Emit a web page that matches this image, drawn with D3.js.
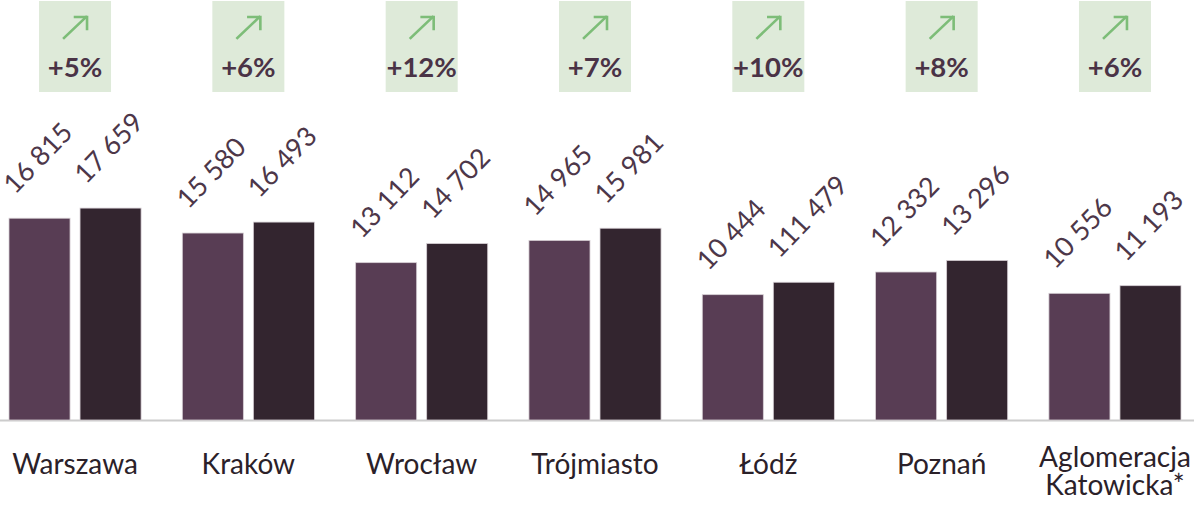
<!DOCTYPE html>
<html><head><meta charset="utf-8">
<script src="https://cdn.jsdelivr.net/npm/d3@7"></script>
<style>
html,body{margin:0;padding:0;background:#fff;}
svg{display:block;font-family:Lato,"Noto Sans",sans-serif;}
</style></head>
<body>
<svg id="chart" width="1194" height="511"></svg>
<script>
const categories = ["Warszawa","Kraków","Wrocław","Trójmiasto","Łódź","Poznań","Aglomeracja\nKatowicka*"];
const seriesA = [16815, 15580, 13112, 14965, 10444, 12332, 10556];
const seriesB = [17659, 16493, 14702, 15981, 11479, 13296, 11193];
const labelsA = ["16 815","15 580","13 112","14 965","10 444","12 332","10 556"];
const labelsB = ["17 659","16 493","14 702","15 981","111 479","13 296","11 193"];
const changes = ["+5%","+6%","+12%","+7%","+10%","+8%","+6%"];

const colors = ["#583d54","#33252f"];
const W = 1194, H = 511;
const svg = d3.select("#chart");

const x0 = d3.scaleBand().domain(categories).range([9, 1181]).paddingInner(0.238).paddingOuter(0);
const x1 = d3.scaleBand().domain([0,1]).range([0, x0.bandwidth()]).paddingInner(0.1408);
const y = d3.scaleLinear().domain([0, 35000]).range([420, 0]);

const data = categories.map((c,i)=>({c, vals:[seriesA[i], seriesB[i]], labs:[labelsA[i], labelsB[i]], ch:changes[i]}));

// baseline
svg.append("line").attr("x1",0).attr("x2",W).attr("y1",420.5).attr("y2",420.5)
  .attr("stroke","#cccccc").attr("stroke-width",2);

const g = svg.selectAll("g.grp").data(data).enter().append("g")
  .attr("class","grp").attr("transform",d=>`translate(${x0(d.c)},0)`);

g.selectAll("rect").data(d=>d.vals.map((v,j)=>({v,j}))).enter().append("rect")
  .attr("x",d=>x1(d.j)).attr("width",x1.bandwidth())
  .attr("y",d=>y(d.v)).attr("height",d=>y(0)-y(d.v))
  .attr("fill",d=>colors[d.j]).attr("stroke","#d6cfd4").attr("stroke-width",0.8);

// value labels rotated
g.selectAll("text.val").data(d=>d.vals.map((v,j)=>({v,j,l:d.labs[j]}))).enter().append("text")
  .attr("class","val")
  .attr("transform",d=>`translate(${x1(d.j)+6},${y(d.v)-23}) rotate(-46)`)
  .attr("font-size",27).attr("font-weight",400).attr("fill","#4d3749")
  .text(d=>d.l);

// badges
const cx = x0.bandwidth()/2;
g.append("rect").attr("x",cx-36).attr("y",1).attr("width",72).attr("height",91).attr("fill","#deead9");
const arrow = g.append("g").attr("stroke","#7dbd78").attr("stroke-width",2.6).attr("fill","none").attr("stroke-linecap","square");
arrow.append("line").attr("x1",cx-11).attr("y1",38).attr("x2",cx+11).attr("y2",17);
arrow.append("polyline").attr("points",`${cx},17 ${cx+12},17 ${cx+12},29`);
g.append("text").attr("x",cx).attr("y",77).attr("text-anchor","middle")
  .attr("font-size",27.5).attr("font-weight",700).attr("fill","#4a3346").text(d=>d.ch);

// category labels
g.append("text").attr("text-anchor","middle").attr("font-size",28).attr("fill","#2b2129")
  .each(function(d){
    const lines = d.c.split("\n");
    const t = d3.select(this);
    const y0 = lines.length>1 ? 467 : 474;
    lines.forEach((ln,k)=>t.append("tspan").attr("x",cx).attr("y",y0+k*28).text(ln));
  });
</script>
</body></html>
